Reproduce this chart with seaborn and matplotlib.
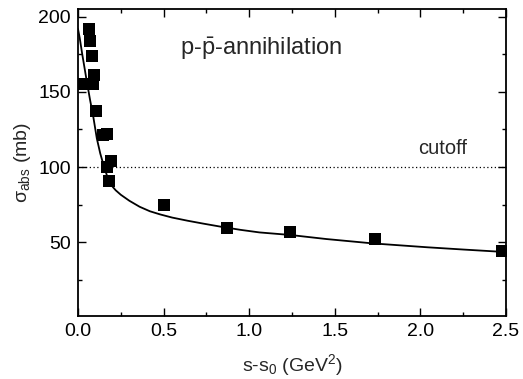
import matplotlib
matplotlib.use("Agg")
import matplotlib.pyplot as plt
import seaborn as sns
import pandas as pd
from matplotlib.ticker import MultipleLocator, FixedLocator

# data points (s - s0 in GeV^2, sigma_abs in mb)
data_x = [0.025, 0.062, 0.07, 0.08, 0.093, 0.09, 0.105, 0.148, 0.167, 0.171, 0.19, 0.181,
          0.502, 0.868, 1.238, 1.735, 2.475]
data_y = [155, 192, 184, 174, 161, 155, 137, 121, 122, 100, 104, 91,
          74.5, 59.5, 56.4, 52, 44]

# theory curve
curve_x = [0.0, 0.01, 0.025, 0.05, 0.07, 0.09, 0.11, 0.13, 0.15, 0.17, 0.19, 0.22,
           0.25, 0.30, 0.36, 0.42, 0.48, 0.55, 0.64, 0.73, 0.83, 0.95, 1.06, 1.24,
           1.45, 1.72, 2.04, 2.25, 2.5]
curve_y = [192, 186, 175, 158, 145, 133, 119, 109, 101, 94, 88.5, 84.5,
           81.5, 77.5, 73.5, 70.5, 68.4, 66.3, 64.2, 62.3, 60.3, 58.1, 56.4, 54.7,
           52, 49.1, 46.5, 45, 43.3]

cutoff_value = 100

sns.set_theme(style="ticks")
plt.rcParams['font.family'] = ['Liberation Sans', 'DejaVu Sans']
plt.rcParams['mathtext.fontset'] = 'custom'
plt.rcParams['mathtext.rm'] = 'Liberation Sans'
plt.rcParams['mathtext.it'] = 'Liberation Sans:italic'
plt.rcParams['mathtext.sf'] = 'Liberation Sans'

fig = plt.figure(figsize=(5.23, 3.79), dpi=100)
ax = fig.add_axes([78/523, 1-316/379, (506-78)/523, (316-9)/379])

df_pts = pd.DataFrame({"x": data_x, "y": data_y})
df_curve = pd.DataFrame({"x": curve_x, "y": curve_y})

sns.lineplot(data=df_curve, x="x", y="y", ax=ax, color="black", lw=1.3, sort=True)
ax.axhline(cutoff_value, color="black", ls=(0, (1, 2)), lw=0.9)
sns.scatterplot(data=df_pts, x="x", y="y", ax=ax, marker="s", s=70, color="black",
                edgecolor="black", linewidth=0, zorder=5)

ax.set_xlim(0, 2.5)
ax.set_ylim(0.7, 205.3)
ax.xaxis.set_major_locator(FixedLocator([0, 0.5, 1.0, 1.5, 2.0, 2.5]))
ax.xaxis.set_minor_locator(MultipleLocator(0.25))
ax.yaxis.set_major_locator(FixedLocator([50, 100, 150, 200]))
ax.yaxis.set_minor_locator(FixedLocator([25, 75, 125, 175]))
ax.set_xticklabels(["0.0", "0.5", "1.0", "1.5", "2.0", "2.5"])

ax.tick_params(which="both", direction="in", top=True, right=True, color="black",
               labelsize=14, labelcolor="black")
ax.tick_params(which="major", length=6, width=1, pad=5)
ax.tick_params(which="minor", length=3, width=1)
for sp in ax.spines.values():
    sp.set_linewidth(1.3)
    sp.set_color("black")

ax.set_xlabel(r"s-s$_0$ (GeV$^2$)", fontsize=14, labelpad=9)
ax.set_ylabel("σ$_{\\rm abs}$ (mb)", fontsize=14, labelpad=4)

ax.text(1.07, 179, r"p-$\bar{\rm p}$-annihilation", fontsize=17, ha="center", va="center")
ax.text(2.13, 112.5, "cutoff", fontsize=14.5, ha="center", va="center")

fig.savefig("out.png", dpi=100)
